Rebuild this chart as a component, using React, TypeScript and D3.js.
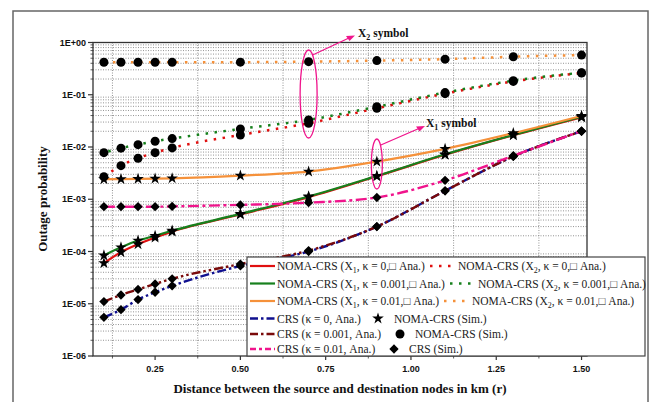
import React from "react";
import * as d3 from "d3";

const X = [0.1, 0.15, 0.2, 0.25, 0.3, 0.5, 0.7, 0.9, 1.1, 1.3, 1.5];
const nomaX1k0 = [6.0e-5, 9.7e-5, 1.38e-4, 1.85e-4, 2.4e-4, 5.1e-4, 1.1e-3, 2.75e-3, 7.1e-3, 1.68e-2, 3.7e-2];
const nomaX1k001 = [8.4e-5, 1.2e-4, 1.62e-4, 2.0e-4, 2.5e-4, 5.25e-4, 1.13e-3, 2.8e-3, 7.25e-3, 1.7e-2, 3.8e-2];
const nomaX1k01 = [2.42e-3, 2.43e-3, 2.45e-3, 2.48e-3, 2.52e-3, 2.84e-3, 3.39e-3, 5.26e-3, 9.2e-3, 1.84e-2, 3.93e-2];
const nomaX2k0 = [2.7e-3, 4.4e-3, 6.1e-3, 7.8e-3, 9.6e-3, 1.7e-2, 2.85e-2, 5.5e-2, 1.05e-1, 1.8e-1, 2.6e-1];
const nomaX2k001 = [7.8e-3, 9.5e-3, 1.11e-2, 1.29e-2, 1.45e-2, 2.22e-2, 3.3e-2, 5.9e-2, 1.1e-1, 1.86e-1, 2.65e-1];
const nomaX2k01 = [0.418, 0.418, 0.418, 0.418, 0.418, 0.42, 0.43, 0.45, 0.48, 0.535, 0.575];
const crsK0 = [5.5e-6, 7.7e-6, 1.2e-5, 1.66e-5, 2.2e-5, 5.3e-5, 1.0e-4, 3.0e-4, 1.45e-3, 6.6e-3, 2.0e-2];
const crsK001 = [1.1e-5, 1.47e-5, 1.88e-5, 2.4e-5, 3.0e-5, 5.75e-5, 1.04e-4, 3.0e-4, 1.45e-3, 6.6e-3, 2.0e-2];
const crsK01 = [7.2e-4, 7.2e-4, 7.2e-4, 7.2e-4, 7.3e-4, 7.8e-4, 8.6e-4, 1.08e-3, 2.3e-3, 6.8e-3, 2.03e-2];

const xTicks = [0.25, 0.5, 0.75, 1.0, 1.25, 1.5];
const xMinor = [0.125, 0.375, 0.625, 0.875, 1.125, 1.375];
const yTicks = [1, 1e-1, 1e-2, 1e-3, 1e-4, 1e-5, 1e-6];
const yTickLabels = ["1E+00", "1E-01", "1E-02", "1E-03", "1E-04", "1E-05", "1E-06"];

const RED = "#e01010";
const GREEN = "#17801d";
const ORANGE = "#f5913a";
const NAVY = "#10108f";
const MAROON = "#7a0a0a";
const MAGENTA = "#f0148c";

const series = [
  { data: nomaX1k0, color: RED, dash: null, width: 2.2, marker: "star" },
  { data: nomaX1k001, color: GREEN, dash: null, width: 2.2, marker: "star" },
  { data: nomaX1k01, color: ORANGE, dash: null, width: 2.2, marker: "star" },
  { data: nomaX2k0, color: RED, dash: "2.5,6.5", width: 2.5, marker: "circle", off: 0 },
  { data: nomaX2k001, color: GREEN, dash: "2.5,6.5", width: 2.5, marker: "circle", off: 4.5 },
  { data: nomaX2k01, color: ORANGE, dash: "2.5,6.5", width: 2.5, marker: "circle", off: 0 },
  { data: crsK0, color: NAVY, dash: "9,3,2.5,3", width: 2.4, marker: "diamond" },
  { data: crsK001, color: MAROON, dash: "9,3,2.5,3,2.5,3", width: 2.4, marker: "diamond" },
  { data: crsK01, color: MAGENTA, dash: "11,3.5,3,3.5", width: 2.4, marker: "diamond" },
];

const L = 93, R = 587, T = 42.5, B = 356;
const xS = d3.scaleLinear().domain([0.068, 1.516]).range([L, R]);
const yS = d3.scaleLog().domain([1e-6, 1]).range([B, T]);

const starPath = d3.symbol(d3.symbolStar, 42)();
const diamondPath = d3.symbol(d3.symbolDiamond2 || d3.symbolDiamond, 55)();

function Marker({ type, x, y }: { type: string; x: number; y: number }) {
  if (type === "circle") return <circle cx={x} cy={y} r={4.5} fill="#000" />;
  if (type === "star") return <path d={starPath as string} transform={`translate(${x},${y})`} fill="#000" />;
  return <path d={diamondPath as string} transform={`translate(${x},${y})`} fill="#000" />;
}

function Sub({ pre, sub, post }: { pre: string; sub: string; post: string }) {
  return (
    <>
      {pre}
      <tspan dy={3} fontSize={8}>{sub}</tspan>
      <tspan dy={-3}>{post}</tspan>
    </>
  );
}

export default function App() {
  const line = d3
    .line<number>()
    .x((_, i) => xS(X[i]))
    .y((d) => yS(d))
    .curve(d3.curveMonotoneX);

  const yMinor: number[] = [];
  for (let e = -6; e < 0; e++) {
    for (let m = 2; m <= 9; m++) yMinor.push(m * Math.pow(10, e));
  }

  const serif = "'Liberation Serif', 'Times New Roman', serif";
  const sans = "'Liberation Sans', Arial, sans-serif";

  const legendRows = [
    { y: 266, c1: RED, c2: RED, k: "0", x2: 430 },
    { y: 283.5, c1: GREEN, c2: GREEN, k: "0.001", x2: 450 },
    { y: 301, c1: ORANGE, c2: ORANGE, k: "0.01", x2: 444 },
  ];
  const legendRows2 = [
    { y: 318.5, color: NAVY, dash: "8,3,2.5,3", label: "CRS (κ = 0, Ana.)", mx: 378, tx: 394, mlabel: "NOMA-CRS (Sim.)", m: "star" },
    { y: 334, color: MAROON, dash: "8,3,2.5,3", label: "CRS (κ = 0.001, Ana.)", mx: 400, tx: 415, mlabel: "NOMA-CRS (Sim.)", m: "circle" },
    { y: 349, color: MAGENTA, dash: "6,3,3,3", label: "CRS (κ = 0.01, Ana.)", mx: 394, tx: 409, mlabel: "CRS (Sim.)", m: "diamond" },
  ];

  return (
    <svg width={650} height={402} style={{ position: "absolute", left: 0, top: 0, background: "#fff" }}>
      <rect x={0} y={0} width={650} height={402} fill="#fff" />
      <rect x={13} y={11} width={635} height={420} fill="none" stroke="#666" strokeWidth={1.5} />

      {/* grid */}
      <g stroke="#888" strokeWidth={0.9} strokeDasharray="1,1.5">
        {yMinor.map((v, i) => (
          <line key={"gy" + i} x1={L} x2={R} y1={yS(v)} y2={yS(v)} />
        ))}
        {xMinor.map((v, i) => (
          <line key={"gx" + i} x1={xS(v)} x2={xS(v)} y1={T} y2={B} />
        ))}
      </g>

      {/* lines */}
      {series.map((s, i) => (
        <path
          key={"s" + i}
          d={line(s.data) as string}
          fill="none"
          stroke={s.color}
          strokeWidth={s.width}
          strokeDasharray={s.dash || undefined}
          strokeDashoffset={(s as any).off || 0}
        />
      ))}
      {/* markers */}
      {series.map((s, i) => (
        <g key={"m" + i}>
          {s.data.map((v, j) => (
            <Marker key={j} type={s.marker} x={xS(X[j])} y={yS(v)} />
          ))}
        </g>
      ))}

      {/* axes box */}
      <rect x={L} y={T} width={R - L} height={B - T} fill="none" stroke="#333" strokeWidth={1.3} />
      {/* y ticks */}
      {yTicks.map((v, i) => (
        <g key={"yt" + i}>
          <line x1={L - 5} x2={L} y1={yS(v)} y2={yS(v)} stroke="#333" strokeWidth={1.2} />
          <text x={L - 7} y={yS(v) + 3.2} textAnchor="end" fontFamily={sans} fontWeight="bold" fontSize={9} fill="#111">
            {yTickLabels[i]}
          </text>
        </g>
      ))}
      {yMinor.map((v, i) => (
        <line key={"ym" + i} x1={L - 2.5} x2={L} y1={yS(v)} y2={yS(v)} stroke="#333" strokeWidth={0.8} />
      ))}
      {/* x ticks */}
      {xTicks.map((v, i) => (
        <g key={"xt" + i}>
          <line x1={xS(v)} x2={xS(v)} y1={B} y2={B + 4} stroke="#333" strokeWidth={1.2} />
          <text x={xS(v)} y={B + 16} textAnchor="middle" fontFamily={sans} fontWeight="bold" fontSize={9} fill="#111">
            {d3.format(".2f")(v)}
          </text>
        </g>
      ))}
      {xMinor.map((v, i) => (
        <line key={"xm" + i} x1={xS(v)} x2={xS(v)} y1={B} y2={B + 2.5} stroke="#333" strokeWidth={0.8} />
      ))}

      <text x={340} y={393} textAnchor="middle" fontFamily={serif} fontWeight="bold" fontSize={13} fill="#111">
        Distance between the source and destination nodes in km (r)
      </text>
      <text transform={`translate(47,199) rotate(-90)`} textAnchor="middle" fontFamily={serif} fontWeight="bold" fontSize={13} fill="#111">
        Outage probability
      </text>

      {/* annotations */}
      <g stroke={MAGENTA} fill="none" strokeWidth={1.3}>
        <ellipse cx={xS(0.7)} cy={94} rx={8.5} ry={44} />
        <line x1={xS(0.7) + 4} y1={55} x2={350} y2={37.5} />
        <ellipse cx={xS(0.9)} cy={164} rx={5.5} ry={25} />
        <line x1={xS(0.9) + 4} y1={145} x2={420} y2={128} />
      </g>
      <path d="M355,35.5 L346,36 L349.5,41 Z" fill={MAGENTA} />
      <path d="M425,126 L416,126.5 L419.5,131.5 Z" fill={MAGENTA} />
      <text x={358} y={37} fontFamily={serif} fontWeight="bold" fontSize={11.5} fill="#111">
        <Sub pre="X" sub="2" post=" symbol" />
      </text>
      <text x={426} y={127} fontFamily={serif} fontWeight="bold" fontSize={11.5} fill="#111">
        <Sub pre="X" sub="1" post=" symbol" />
      </text>

      {/* legend */}
      <rect x={247} y={257} width={398} height={99} fill="#fff" stroke="#444" strokeWidth={1.2} />
      {legendRows.map((r, i) => (
        <g key={"lr" + i} fontFamily={serif} fontSize={11.5} fill="#222">
          <line x1={250} x2={275} y1={r.y} y2={r.y} stroke={r.c1} strokeWidth={2.2} />
          <text x={277} y={r.y + 4}>
            <Sub pre="NOMA-CRS (X" sub="1" post={`, κ = ${r.k},□ Ana.)`} />
          </text>
          <line x1={r.x2} x2={r.x2 + 25} y1={r.y} y2={r.y} stroke={r.c2} strokeWidth={2.5} strokeDasharray="2.5,6.5" />
          <text x={r.x2 + 28} y={r.y + 4}>
            <Sub pre="NOMA-CRS (X" sub="2" post={`, κ = ${r.k},□ Ana.)`} />
          </text>
        </g>
      ))}
      {legendRows2.map((r, i) => (
        <g key={"lr2" + i} fontFamily={serif} fontSize={11.5} fill="#222">
          <line x1={250} x2={275} y1={r.y} y2={r.y} stroke={r.color} strokeWidth={2.4} strokeDasharray={r.dash} />
          <text x={277} y={r.y + 4}>{r.label}</text>
          <Marker type={r.m} x={r.mx} y={r.y} />
          <text x={r.tx} y={r.y + 4}>{r.mlabel}</text>
        </g>
      ))}
    </svg>
  );
}
